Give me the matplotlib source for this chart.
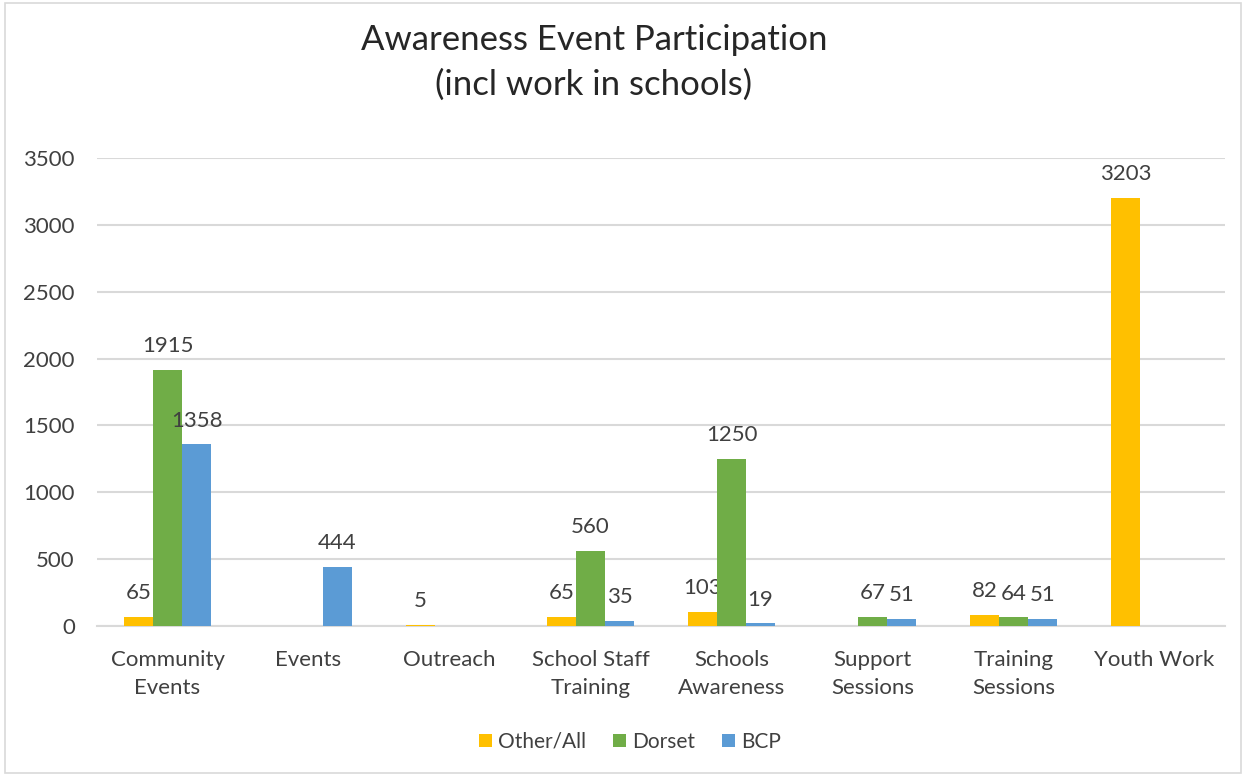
import matplotlib

matplotlib.use("Agg")
import matplotlib.pyplot as plt
import numpy as np

categories = ["Community\nEvents", "Events", "Outreach", "School Staff\nTraining",
              "Schools\nAwareness", "Support\nSessions", "Training\nSessions", "Youth Work"]
other_all = [65, np.nan, 5, 65, 103, np.nan, 82, 3203]
dorset = [1915, np.nan, np.nan, 560, 1250, 67, 64, np.nan]
bcp = [1358, 444, np.nan, 35, 19, 51, 51, np.nan]

series = [("Other/All", other_all, "#FFC000"),
          ("Dorset", dorset, "#70AD47"),
          ("BCP", bcp, "#5B9BD5")]

plt.rcParams["font.family"] = ["Lato", "DejaVu Sans"]

fig = plt.figure(figsize=(12.48, 7.76), dpi=100)
ax = fig.add_axes([97 / 1248, 1 - 626 / 776, (1225 - 97) / 1248, (626 - 158) / 776])

x = np.arange(len(categories))
width = 0.206
for i, (name, vals, color) in enumerate(series):
    vals = np.array(vals, dtype=float)
    pos = x + (i - 1) * width
    ax.bar(pos, np.nan_to_num(vals), width, color=color, label=name, zorder=3)
    for p, v in zip(pos, vals):
        if not np.isnan(v):
            ax.annotate(f"{int(v)}", (p, v), xytext=(0, 10), textcoords="offset points",
                        ha="center", va="bottom", fontsize=16, color="#404040")

ax.set_xlim(-0.5, len(categories) - 0.5)
ax.set_ylim(0, 3500)
ax.set_yticks(range(0, 3501, 500))
ax.yaxis.grid(True, color="#D9D9D9", linewidth=1.5, zorder=0)
ax.set_xticks(x)
ax.set_xticklabels(categories, fontsize=16, color="#404040", linespacing=1.55)
ax.tick_params(axis="y", labelsize=16, labelcolor="#404040", length=0, pad=16)
ax.tick_params(axis="x", length=0, pad=17)
for s in ["top", "right", "left"]:
    ax.spines[s].set_visible(False)
ax.spines["bottom"].set_color("#D9D9D9")
ax.spines["bottom"].set_linewidth(1.5)

fig.text(594 / 1248, 1 - 40 / 776, "Awareness Event Participation", ha="center", va="center",
         fontsize=25, color="#262626")
fig.text(594 / 1248, 1 - 85 / 776, "(incl work in schools)", ha="center", va="center",
         fontsize=25, color="#262626")

ax.legend(loc="center", bbox_to_anchor=(630 / 1248, 1 - 742 / 776), bbox_transform=fig.transFigure,
          ncol=3, frameon=False, fontsize=15, handlelength=0.6, handleheight=0.6,
          handletextpad=0.3, columnspacing=1.3, labelcolor="#404040")

fig.patches.append(plt.Rectangle((0.004, 0.004), 0.99, 0.992, transform=fig.transFigure,
                                 fill=False, edgecolor="#D9D9D9", linewidth=1.2))

fig.savefig("out.png", dpi=100, facecolor="white")
